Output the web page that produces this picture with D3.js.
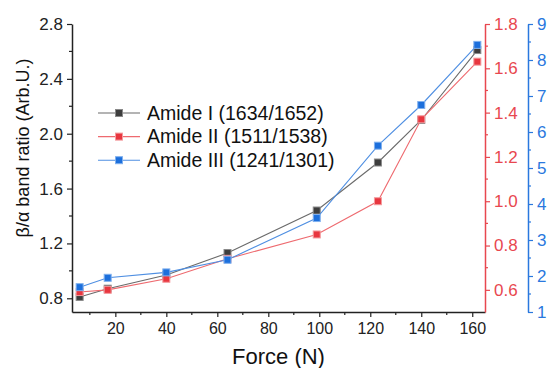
<!DOCTYPE html>
<html>
<head>
<meta charset="utf-8">
<script src="https://cdn.jsdelivr.net/npm/d3@7"></script>
<style>
  html, body { margin: 0; padding: 0; background: #fff; }
  svg { display: block; font-family: "Liberation Sans", Arial, sans-serif; }
</style>
</head>
<body>
<svg id="chart" width="548" height="368"></svg>
<script>
// Applied force (N)
const force = [6, 17, 40, 64, 99, 123, 140, 162];
// β/α band ratios for each amide band
const amideI   = [0.81, 0.87, 0.97, 1.13, 1.44, 1.79, 2.10, 2.61];
const amideII  = [0.59, 0.60, 0.65, 0.74, 0.85, 1.00, 1.37, 1.63];
const amideIII = [1.69, 1.95, 2.10, 2.45, 3.61, 5.62, 6.75, 8.42];

const seriesNames = ["Amide I (1634/1652)", "Amide II (1511/1538)", "Amide III (1241/1301)"];

const xTicks = [20, 40, 60, 80, 100, 120, 140, 160];
const leftTicks = [0.8, 1.2, 1.6, 2.0, 2.4, 2.8];
const redTicks = [0.6, 0.8, 1.0, 1.2, 1.4, 1.6, 1.8];
const blueTicks = [1, 2, 3, 4, 5, 6, 7, 8, 9];

const svg = d3.select("#chart");
const plotLeft = 72, plotRight = 485, plotTop = 24, plotBottom = 312;
const blueAxisX = 528;

const x = d3.scaleLinear().domain([3, 165]).range([plotLeft, plotRight]);
const yL = d3.scaleLinear().domain([0.7, 2.8]).range([plotBottom, plotTop]);
const yR = d3.scaleLinear().domain([0.5, 1.8]).range([plotBottom, plotTop]);
const yB = d3.scaleLinear().domain([1, 9]).range([plotBottom, plotTop]);

const cBlack = "#3d3d3d", cRed = "#e8363f", cBlue = "#1c6fdc";
const axisRed = "#e8474f", axisBlue = "#2a78de";

function styleAxis(g, color, fontSize) {
  g.select(".domain").attr("stroke", color).attr("stroke-width", 1.5);
  g.selectAll(".tick line").attr("stroke", color).attr("stroke-width", 1.2);
  g.selectAll(".tick text").attr("fill", color)
    .style("font-size", fontSize + "px")
    .style("font-family", '"Liberation Sans", Arial, sans-serif');
}

// minor ticks
function minor(g, scale, values, orient, color) {
  values.forEach(v => {
    const p = scale(v);
    const line = g.append("line").attr("stroke", color).attr("stroke-width", 1.2);
    if (orient === "bottom") line.attr("x1", p).attr("x2", p).attr("y1", 0).attr("y2", 3);
    if (orient === "left") line.attr("y1", p).attr("y2", p).attr("x1", 0).attr("x2", -3);
    if (orient === "right") line.attr("y1", p).attr("y2", p).attr("x1", 0).attr("x2", 3);
  });
}

// bottom axis
const gx = svg.append("g").attr("transform", `translate(0,${plotBottom})`)
  .call(d3.axisBottom(x).tickValues(xTicks).tickFormat(d3.format("d")).tickSize(5).tickSizeOuter(0).tickPadding(6));
styleAxis(gx, "#222", 16);
minor(gx, x, d3.range(10, 161, 20), "bottom", "#222");

// left axis
const gl = svg.append("g").attr("transform", `translate(${plotLeft},0)`)
  .call(d3.axisLeft(yL).tickValues(leftTicks).tickFormat(d3.format(".1f")).tickSize(5).tickSizeOuter(0).tickPadding(4));
styleAxis(gl, "#222", 17);
minor(gl, yL, [1.0, 1.4, 1.8, 2.2, 2.6], "left", "#222");

// right red axis
const gr = svg.append("g").attr("transform", `translate(${plotRight},0)`)
  .call(d3.axisRight(yR).tickValues(redTicks).tickFormat(d3.format(".1f")).tickSize(5).tickSizeOuter(0).tickPadding(4));
styleAxis(gr, axisRed, 17);
minor(gr, yR, [0.7, 0.9, 1.1, 1.3, 1.5, 1.7], "right", axisRed);

// right blue axis
const gb = svg.append("g").attr("transform", `translate(${blueAxisX},0)`)
  .call(d3.axisRight(yB).tickValues(blueTicks).tickFormat(d3.format("d")).tickSize(5).tickSizeOuter(0).tickPadding(4));
styleAxis(gb, axisBlue, 17);
minor(gb, yB, d3.range(1.5, 9, 1), "right", axisBlue);

// axis titles
svg.append("text").attr("x", (plotLeft + plotRight) / 2).attr("y", 364)
  .attr("text-anchor", "middle").style("font-size", "22px").attr("fill", "#111")
  .text("Force (N)");

svg.append("text")
  .attr("transform", `translate(29,${148}) rotate(-90)`)
  .attr("text-anchor", "middle").style("font-size", "18px").attr("fill", "#111")
  .text("β/α band ratio (Arb.U.)");

// series
const series = [
  { name: seriesNames[0], vals: amideI, y: yL, color: cBlack, line: "#6a6a6a", stroke: "#8a8a8a" },
  { name: seriesNames[1], vals: amideII, y: yR, color: cRed, line: "#ee6a6f", stroke: "#f49a9d" },
  { name: seriesNames[2], vals: amideIII, y: yB, color: cBlue, line: "#4f8fe2", stroke: "#7fb0ee" }
];

const ms = 7;
series.forEach(s => {
  const pts = force.map((f, i) => [x(f), s.y(s.vals[i])]);
  svg.append("path").attr("d", d3.line()(pts))
    .attr("fill", "none").attr("stroke", s.line).attr("stroke-width", 1.1);
  svg.append("g").selectAll("rect").data(pts).join("rect")
    .attr("x", d => d[0] - ms / 2).attr("y", d => d[1] - ms / 2)
    .attr("width", ms).attr("height", ms)
    .attr("fill", s.color).attr("stroke", s.stroke).attr("stroke-width", 1);
});

// legend
const legend = svg.append("g");
series.forEach((s, i) => {
  const ly = 113 + i * 23.6;
  legend.append("line").attr("x1", 98).attr("x2", 140).attr("y1", ly).attr("y2", ly)
    .attr("stroke", s.line).attr("stroke-width", 1.1);
  legend.append("rect").attr("x", 119 - ms / 2).attr("y", ly - ms / 2)
    .attr("width", ms).attr("height", ms)
    .attr("fill", s.color).attr("stroke", s.stroke).attr("stroke-width", 1);
  legend.append("text").attr("x", 147).attr("y", ly).attr("dy", "0.35em")
    .style("font-size", "19.5px").attr("fill", "#111").text(s.name);
});
</script>
</body>
</html>
